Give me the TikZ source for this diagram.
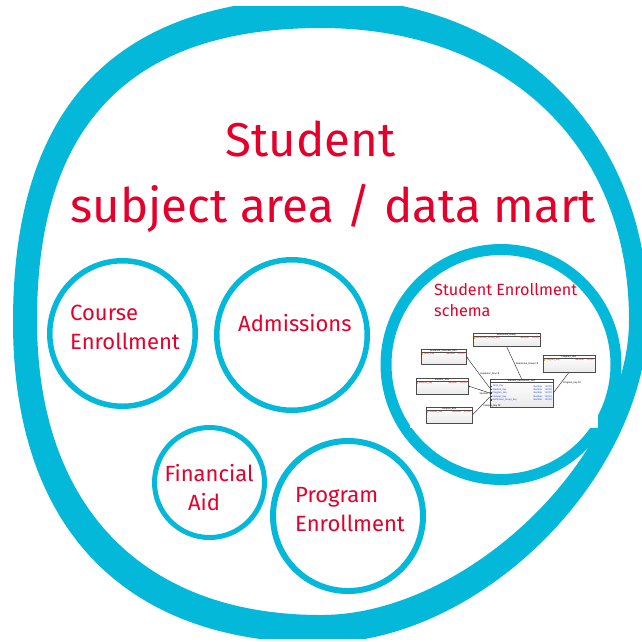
\documentclass[tikz,border=0pt]{standalone}
\usepackage{fontspec}
\setmainfont{Fira Sans}
\usetikzlibrary{arrows.meta}
\definecolor{ringblue}{RGB}{4,184,217}
\definecolor{titlered}{RGB}{228,0,43}
\definecolor{keyred}{RGB}{235,20,20}
\definecolor{fkblue}{RGB}{30,60,230}
\definecolor{keygold}{RGB}{240,180,20}
\newcommand\erfont{\fontsize{2.4}{2.8}\selectfont}
\tikzset{
  ring/.style={draw=ringblue, circle, inner sep=0pt, fill=white},
  heading/.style={text=titlered, inner sep=0pt, font=\fontsize{47.5}{57}\selectfont},
  label/.style={text=titlered, inner sep=0pt, font=\fontsize{22}{26}\selectfont},
  smalllabel/.style={text=titlered, inner sep=0pt, font=\fontsize{16.2}{19}\selectfont},
  erbox/.style={draw=gray!60!black, line width=0.55pt, top color=white, bottom color=gray!16, rectangle, inner sep=0pt},
  ertitle/.style={font=\erfont, text=black, inner sep=0.4pt, anchor=north},
  erkey/.style={font=\erfont, inner sep=0pt, anchor=west},
  ertype/.style={font=\erfont, inner sep=0pt, anchor=east},
  erlink/.style={draw=black!75, line width=0.5pt},
  erlabel/.style={font=\erfont, text=black, inner sep=0pt},
}
\begin{document}
\begin{tikzpicture}[x=1pt,y=-1pt]
\useasboundingbox (0,0) rectangle (642,641);
% outer band: an oval ring, trimmed by the frame
\begin{scope}
  \clip (0,6) rectangle (642,638);
  \fill[ringblue, even odd rule]
    (325,-2) .. controls (512.3,-2) and (648,131.1) .. (648,315)
             .. controls (648,475.7) and (481.2,643) .. (321,643)
             .. controls (123.9,643) and (13,527.4) .. (13,322)
             .. controls (13,104.9) and (116,-2) .. (325,-2) -- cycle
    (321,28) .. controls (505.8,28) and (629,144.8) .. (629,320)
             .. controls (629,458.7) and (465.8,615) .. (321,615)
             .. controls (142.1,615) and (37,505.9) .. (37,320)
             .. controls (37,124.4) and (130.7,28) .. (321,28) -- cycle;
\end{scope}

% topic circles
\node[ring, line width=5.5pt, minimum size=145.5pt] (course) at (122.5,333.5) {};
\node[ring, line width=5.5pt, minimum size=150.5pt] (admit) at (292,335) {};
\node[ring, line width=11pt, minimum size=230pt] (schema) at (501,364.5) {};
\node[ring, line width=5pt, minimum size=110pt] (finaid) at (209.5,482.5) {};
\node[ring, line width=6pt, minimum size=150pt] (program) at (348,516) {};

% title
\node[heading, anchor=base] (title1) at (310.5,156) {Student};
\node[heading, anchor=base] (title2) at (333,222) {subject area / data mart};

% circle captions
\node[label, anchor=base west] (course1) at (70,320) {Course};
\node[label, anchor=base west] (course2) at (70,349) {Enrollment};
\node[label, anchor=base west] (admit1) at (238,331) {Admissions};
\node[label, anchor=base] (finaid1) at (209,481) {Financial};
\node[label, anchor=base] (finaid2) at (204,510) {Aid};
\node[label, anchor=base west] (program1) at (295,502) {Program};
\node[label, anchor=base west] (program2) at (295,531) {Enrollment};
\node[smalllabel, anchor=base west] (schema1) at (434,295) {Student Enrollment};
\node[smalllabel, anchor=base west] (schema2) at (434,316) {schema};

% white backdrop of the embedded schema picture
\fill[white] (410,325) rectangle (598,428);

% --- star schema ---
\node[erbox, minimum width=67pt, minimum height=13pt] (tbox) at (506.5,339.5) {};
\node[erbox, minimum width=45pt, minimum height=15pt] (ltbox) at (443.5,356.5) {};
\node[erbox, minimum width=52pt, minimum height=17pt] (rbox) at (569,363.5) {};
\node[erbox, minimum width=52pt, minimum height=16pt] (lmbox) at (442,386) {};
\node[erbox, minimum width=46pt, minimum height=16pt] (blbox) at (449,415) {};
\node[erbox, minimum width=63pt, minimum height=28pt] (fact) at (521.5,393) {};

% headers with rule below
\foreach \b/\t in {tbox/Admission\_Group, ltbox/Academic\_Calendar\_Dim, rbox/Program\_Dim,
                   lmbox/Student\_Dim, blbox/Campus\_Dim, fact/Student\_Enrollment\_Fact} {
  \node[ertitle] (\b-head) at (\b.north) {\t};
  \draw[gray!60!black, line width=0.35pt] ([yshift=-3.4pt]\b.north west) -- ([yshift=-3.4pt]\b.north east);
}

% primary keys of the dimensions
\foreach \b/\k in {tbox/Admission\_Group\_Key, ltbox/Term\_Key, rbox/Program\_Key,
                   lmbox/Student\_Key, blbox/Campus\_Key} {
  \fill[keygold] ([xshift=0.8pt,yshift=-4.6pt]\b.north west) rectangle ([xshift=2.4pt,yshift=-6.1pt]\b.north west);
  \node[erkey, text=keyred] (\b-key) at ([xshift=2.8pt,yshift=-5.4pt]\b.north west) {\k};
  \node[ertype, text=keyred] (\b-type) at ([xshift=-1.2pt,yshift=-5.4pt]\b.north east) {Number\quad 10 (PK)};
}

% foreign keys of the fact
\foreach \k [count=\i] in {Term\_Key, Student\_Key, Program\_Key, Campus\_Key, Admission\_Group\_Key} {
  \fill[fkblue] ([xshift=0.8pt,yshift={-3.5pt-3.4pt*\i}]fact.north west) rectangle ([xshift=2.2pt,yshift={-4.8pt-3.4pt*\i}]fact.north west);
  \node[erkey, text=fkblue] (fact-k\i) at ([xshift=2.8pt,yshift={-4.15pt-3.4pt*\i}]fact.north west) {\k};
  \node[ertype, text=fkblue] (fact-t\i) at ([xshift=-1.2pt,yshift={-4.15pt-3.4pt*\i}]fact.north east) {Number\quad 10 (FK)};
}

% relationships
\draw[erlink] (tbox.south) -- (fact.north)
  node[erlabel, pos=0.55, right=1pt] (l1) {Admission\_Group FK};
\draw[erlink, {Stealth[length=2.2pt,width=1.8pt]}-] (ltbox.east) -- ([yshift=5pt]fact.west)
  node[erlabel, pos=0.55, right=1pt] (l2) {Academic\_Key FK};
\draw[erlink, {Stealth[length=2.2pt,width=1.8pt]}-] (lmbox.east) -- (fact.west)
  node[erlabel, pos=0.8, below=0.5pt] (l3) {Student FK};
\draw[erlink] (blbox.east) -- ([yshift=-4pt]fact.west)
  node[erlabel, pos=0.6, below right=0.5pt] (l4) {Campus\_Key FK};
\draw[erlink] (rbox.south) -- (fact.east)
  node[erlabel, pos=0.5, right=2pt] (l5) {Program\_Key FK};
\end{tikzpicture}
\end{document}
